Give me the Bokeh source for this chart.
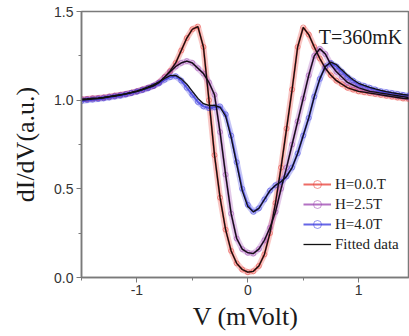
from bokeh.plotting import figure
from bokeh.models import Legend, LegendItem, Label, FixedTicker
from bokeh.embed import file_html
from bokeh.resources import INLINE

# ---- data ----
v = [-1.50, -1.45, -1.40, -1.35, -1.30, -1.25, -1.20, -1.15, -1.10, -1.05,
     -1.00, -0.95, -0.90, -0.85, -0.80, -0.75, -0.70, -0.65, -0.60, -0.55,
     -0.50, -0.45, -0.40, -0.35, -0.30, -0.25, -0.20, -0.15, -0.10, -0.05,
     0.00, 0.05, 0.10, 0.15, 0.20, 0.25, 0.30, 0.35, 0.40, 0.45,
     0.50, 0.55, 0.60, 0.65, 0.70, 0.75, 0.80, 0.85, 0.90, 0.95,
     1.00, 1.05, 1.10, 1.15, 1.20, 1.25, 1.30, 1.35, 1.40, 1.45]

h00 = [1.005, 1.007, 1.010, 1.012, 1.015, 1.020, 1.025, 1.030, 1.035, 1.042,
       1.050, 1.060, 1.070, 1.080, 1.100, 1.130, 1.165, 1.210, 1.280, 1.350,
       1.400, 1.415, 1.300, 1.000, 0.690, 0.450, 0.270, 0.150, 0.080, 0.045,
       0.030, 0.035, 0.065, 0.130, 0.250, 0.420, 0.620, 0.840, 1.060, 1.300,
       1.410, 1.370, 1.300, 1.235, 1.180, 1.140, 1.110, 1.090, 1.070, 1.060,
       1.050, 1.045, 1.040, 1.035, 1.030, 1.025, 1.020, 1.015, 1.010, 1.008]

h25 = [1.005, 1.007, 1.010, 1.012, 1.015, 1.020, 1.025, 1.030, 1.035, 1.042,
       1.050, 1.060, 1.070, 1.082, 1.100, 1.130, 1.160, 1.190, 1.210, 1.220,
       1.210, 1.180, 1.150, 1.100, 1.030, 0.820, 0.580, 0.360, 0.220, 0.160,
       0.140, 0.135, 0.160, 0.210, 0.280, 0.370, 0.500, 0.620, 0.750, 0.880,
       1.010, 1.140, 1.250, 1.290, 1.260, 1.200, 1.160, 1.130, 1.100, 1.085,
       1.070, 1.060, 1.050, 1.045, 1.040, 1.035, 1.030, 1.025, 1.020, 1.015]

h40 = [0.995, 1.000, 1.003, 1.006, 1.010, 1.015, 1.020, 1.025, 1.032, 1.040,
       1.048, 1.057, 1.067, 1.080, 1.095, 1.115, 1.130, 1.135, 1.110, 1.070,
       1.030, 0.990, 0.965, 0.955, 0.960, 0.965, 0.920, 0.800, 0.650, 0.500,
       0.410, 0.370, 0.390, 0.440, 0.490, 0.520, 0.540, 0.570, 0.620, 0.700,
       0.800, 0.900, 1.020, 1.120, 1.190, 1.210, 1.190, 1.160, 1.130, 1.110,
       1.090, 1.080, 1.070, 1.060, 1.050, 1.045, 1.040, 1.035, 1.030, 1.025]

h40_fit = [1.000, 1.003, 1.006, 1.009, 1.013, 1.018, 1.023, 1.029, 1.036, 1.044,
           1.053, 1.063, 1.075, 1.088, 1.103, 1.122, 1.138, 1.140, 1.120, 1.090,
           1.050, 1.010, 0.980, 0.970, 0.970, 0.960, 0.910, 0.790, 0.640, 0.490,
           0.400, 0.370, 0.390, 0.440, 0.490, 0.520, 0.540, 0.570, 0.620, 0.700,
           0.800, 0.900, 1.020, 1.120, 1.190, 1.215, 1.200, 1.170, 1.140, 1.115,
           1.095, 1.083, 1.072, 1.063, 1.055, 1.048, 1.042, 1.037, 1.032, 1.028]

series_labels = ["H=0.0.T", "H=2.5T", "H=4.0T"]
fit_label = "Fitted data"
x_ticks = [-1, 0, 1]
x_tick_labels = ["-1", "0", "1"]
x_minor = [-1.5, -0.5, 0.5, 1.5]
y_ticks = [0.0, 0.5, 1.0, 1.5]
y_tick_labels = ["0.0", "0.5", "1.0", "1.5"]
y_minor = [0.25, 0.75, 1.25]
temp_text = "T=360mK"

colors = ["#e8463f", "#a04db4", "#3f3fe0"]

p = figure(width=409, height=334, x_range=(-1.5, 1.459), y_range=(0, 1.5),
           output_backend="svg", toolbar_location=None,
           min_border_left=81, min_border_right=0, min_border_top=11,
           min_border_bottom=57)
p.grid.visible = False
p.background_fill_color = "white"
p.border_fill_color = "white"
p.outline_line_color = "#7a7a7a"
p.outline_line_width = 1.5

for ax in (p.xaxis[0], p.yaxis[0]):
    ax.axis_line_color = "#7a7a7a"
    ax.axis_line_width = 1.5
    ax.major_tick_line_color = "#7a7a7a"
    ax.minor_tick_line_color = "#7a7a7a"
    ax.major_tick_in = 0
    ax.major_tick_out = 5
    ax.minor_tick_in = 0
    ax.minor_tick_out = 3
    ax.major_label_text_font = "Liberation Sans"
    ax.major_label_text_font_size = "14px"
    ax.major_label_text_color = "#333333"
    ax.axis_label_text_font = "Liberation Serif"
    ax.axis_label_text_font_size = "26px"
    ax.axis_label_text_font_style = "normal"
    ax.axis_label_text_color = "#1a1a1a"

p.xaxis.ticker = FixedTicker(ticks=x_ticks, minor_ticks=x_minor)
p.yaxis.ticker = FixedTicker(ticks=y_ticks, minor_ticks=y_minor)
p.xaxis.major_label_overrides = {t: s for t, s in zip(x_ticks, x_tick_labels)}
p.yaxis.major_label_overrides = {t: s for t, s in zip(y_ticks, y_tick_labels)}
p.xaxis.axis_label = "V (mVolt)"
p.yaxis.axis_label = "dI/dV(a.u.)"
p.xaxis.major_label_standoff = 2
p.xaxis.axis_label_standoff = 4
p.yaxis.major_label_standoff = 3
p.yaxis.axis_label_standoff = 11

items = []
fit_renderers = []
for ys, col, lab in zip([h00, h25, h40], colors, series_labels):
    p.line(v, ys, line_color=col, line_width=6, line_alpha=0.3)
    ln = p.line(v, ys, line_color=col, line_width=2, line_alpha=0.8)
    sc = p.scatter(v, ys, marker="circle", size=5, fill_color="white", fill_alpha=0.0,
                   line_color=col, line_width=1, line_alpha=0.55)
    items.append(LegendItem(label=lab, renderers=[ln, sc]))
for fy in [h00, h25, h40_fit]:
    fit_renderers.append(p.line(v, fy, line_color="#111111", line_width=1.3))
items.append(LegendItem(label=fit_label, renderers=[fit_renderers[0]]))

legend = Legend(items=items, location=(222, 23), background_fill_alpha=0,
                border_line_alpha=0, padding=0, margin=0, spacing=0,
                glyph_width=28, glyph_height=20, label_height=20,
                label_standoff=4, label_text_font="Liberation Serif",
                label_text_font_size="15px", label_text_color="#222222")
p.add_layout(legend, "center")

p.add_layout(Label(x=0.64, y=1.354, text=temp_text, text_font="Liberation Serif",
                   text_font_size="20px", text_color="#1a1a1a",
                   text_baseline="alphabetic"))

open("out.html", "w").write(file_html(p, INLINE))
